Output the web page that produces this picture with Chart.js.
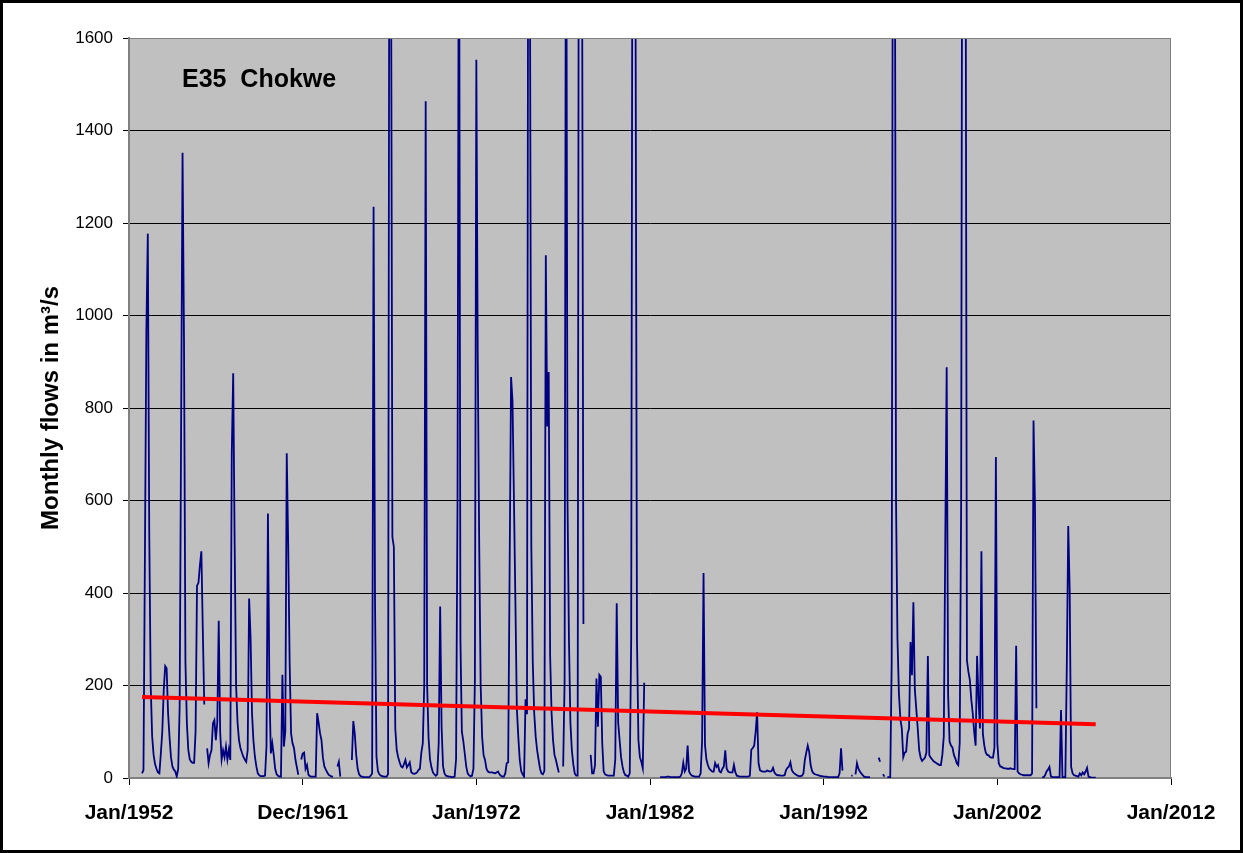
<!DOCTYPE html>
<html>
<head>
<meta charset="utf-8">
<script src="https://cdn.jsdelivr.net/npm/chart.js@4"></script>
<style>
  html, body { margin: 0; padding: 0; background: #fff; }
  canvas { display: block; }
</style>
</head>
<body>
<canvas id="flowChart" width="1243" height="853"></canvas>
<script>
// Monthly flows at E35 Chokwe, m3/s. One row per hydrological year (Oct..Sep), null = no record
const firstMonth = 9; // Oct 1952, counted in months from Jan 1952
const flows = [
  10, 17, 480, 967, 1177, 527, 200, 90, 50, 30, 20, 12,        // 1952/53
  10, 53, 100, 190, 242, 237, 140, 89, 45, 25, 18, 14,         // 1953/54
  3, 20, 154, 750, 1352, 951, 250, 118, 60, 40, 35, 33,        // 1954/55
  33, 100, 416, 422, 460, 490, 320, 159, null, 64, 32, 50,     // 1955/56
  60, 118, 125, 82, 120, 340, 100, 40, 60, 45, 68, 40,         // 1956/57
  61, 39, 700, 875, 506, 200, 120, 82, 65, 55, 46, 40,         // 1957/58
  35, 60, 388, 305, 140, 80, 46, 25, 10, 6, 4, 4,              // 1958/59
  4, 5, 68, 572, 200, 53, 75, 50, 20, 8, 5, 3,                 // 1959/60
  3, 223, 68, 100, 702, 506, 250, 96, 75, 65, 40, 23,          // 1960/61
  7, null, 40, 53, 55, 20, 28, 7, 4, 3, 3, 3,                  // 1961/62
  3, 140, 120, 97, 82, 44, 25, 18, 12, 7, 5, 3,                // 1962/63
  3, null, null, 25, 35, 3, null, null, null, null, null, null, // 1963/64
  null, 39, 123, 96, 50, 20, 8, 4, 3, 2, 2, 2,                 // 1964/65
  2, 2, 5, 10, 1235, 380, 46, 15, 8, 5, 4, 3,                  // 1965/66
  3, 3, 8, 2200, 1900, 521, 500, 107, 60, 45, 34, 25,          // 1966/67
  23, 30, 39, 23, 28, 34, 13, 10, 9, 10, 12, 17,               // 1967/68
  20, 55, 75, 200, 1463, 200, 86, 40, 23, 12, 8, 5,            // 1968/69
  8, 75, 371, 110, 25, 10, 5, 4, 3, 3, 2, 2,                   // 1969/70
  3, 40, 600, 2100, 300, 100, 80, 53, 25, 10, 6, 4,            // 1970/71
  5, 20, 212, 1553, 900, 500, 200, 89, 50, 39, 20, 14,         // 1971/72
  12, 12, 12, 11, 10, 12, 14, 8, 5, 3, 3, 10,                  // 1972/73
  32, 34, 450, 867, 815, 600, 380, 150, 89, 39, 15, 8,         // 1973/74
  3, 170, 138, 2300, 1800, 500, 250, 140, 90, 60, 40, 20,      // 1974/75
  10, 8, 15, 1130, 760, 878, 264, 140, 82, 50, 39, 25,         // 1975/76
  12, null, null, 25, 212, 2200, 600, 300, 120, 60, 30, 10,    // 1976/77
  5, 5, 2500, 2600, 1900, 333, null, null, null, null, 50, 10, // 1977/78
  10, 28, 215, 111, 223, 219, 75, 14, 8, 6, 5, 5,              // 1978/79
  5, 5, 5, 40, 378, 120, 82, 45, 25, 12, 6, 5,                 // 1979/80
  3, 10, 300, 2200, 2000, 1700, 300, 82, 45, 35, 21, 206,      // 1980/81
  null, null, null, null, null, null, null, null, null, null, 2, 2, // 1981/82
  2, 2, 2, 3, 3, 2, 2, 2, 2, 2, 2, 2,                          // 1982/83
  3, 10, 33, 14, 20, 70, 14, 8, 5, 4, 3, 3,                    // 1983/84
  3, 3, 10, 80, 443, 71, 40, 28, 20, 17, 14, 14,               // 1984/85
  32, 24, 28, 14, 12, 20, 25, 60, 20, 14, 12, 12,              // 1985/86
  12, 28, 12, 5, 4, 3, 3, 3, 3, 3, 3, 3,                       // 1986/87
  5, 61, 65, 70, 100, 142, 32, 17, 15, 14, 14, 14,             // 1987/88
  16, 15, 14, 15, 22, 12, 8, 6, 6, 5, 5, 5,                    // 1988/89
  6, 17, 22, 25, 34, 17, 12, 9, 7, 5, 4, 4,                    // 1989/90
  5, 10, 39, 55, 70, 57, 28, 15, 10, 8, 7, 6,                  // 1990/91
  5, 4, 4, 3, 3, 3, 2, 2, 2, 2, 2, 2,                          // 1991/92
  2, 2, 10, 64, 16, null, null, null, null, null, 5, 5,        // 1992/93
  null, 8, 32, 20, 14, 10, 6, 3, 2, 2, 2, 2,                   // 1993/94
  null, null, null, null, null, 44, 35, null, 8, 3, null, 2,   // 1994/95
  2, 2, 250, 2500, 2200, 600, 300, 183, 128, 107, 45, 55,      // 1995/96
  57, 96, 107, 294, 222, 380, 191, 149, 107, 60, 44, 37,       // 1996/97
  40, 44, 55, 264, 49, 44, 40, 36, 34, 32, 30, 28,             // 1997/98
  28, 50, 90, 500, 888, 180, 79, 70, 66, 50, 42, 32,           // 1998/99
  28, 75, 600, 2500, 4000, 2000, 254, 230, 212, 170, 140, 100, // 1999/00
  70, 264, 170, 107, 490, 96, 70, 55, 50, 49, 45, 44,          // 2000/01
  44, 65, 694, 75, 32, 25, 24, 22, 21, 21, 20, 20,             // 2001/02
  21, 20, 19, 19, 286, 14, 10, 8, 7, 6, 6, 6,                  // 2002/03
  6, 6, 6, 10, 773, 594, 151, null, null, null, 2, 2,          // 2003/04
  6, 14, 18, 24, 4, 2, 2, 2, 2, 2, 2, 147,                     // 2004/05
  2, 2, 2, 241, 545, 406, 24, 10, 6, 5, 4, 3,                  // 2005/06
  10, 6, 12, 8, 14, 22, 3, 2, 1, 1, 1, 1                       // 2006/07
];

// linear trend drawn by the spreadsheet
const trendMonths = [9, 668];
const trendFlows = [175, 116];

const xTickMonths = [0, 120, 240, 360, 480, 600, 720];
const xTickLabels = ['Jan/1952', 'Dec/1961', 'Jan/1972', 'Jan/1982', 'Jan/1992', 'Jan/2002', 'Jan/2012'];
const yMax = 1600;
const yStep = 200;

const stationName = 'E35  Chokwe';
const yTitle = 'Monthly flows in m\u00B3/s';
const fontFamily = '"Liberation Sans", Arial, sans-serif';

// gray plot area, outer frame and station name
const frame = {
  id: 'frame',
  beforeDraw(chart) {
    const { ctx, chartArea: a } = chart;
    ctx.save();
    ctx.fillStyle = '#ffffff';
    ctx.fillRect(0, 0, chart.width, chart.height);
    ctx.fillStyle = '#c0c0c0';
    ctx.fillRect(a.left, a.top, a.right - a.left, a.bottom - a.top);
    ctx.restore();
  },
  afterDraw(chart) {
    const { ctx, chartArea: a } = chart;
    ctx.save();
    ctx.strokeStyle = '#808080';
    ctx.lineWidth = 1;
    ctx.beginPath();
    ctx.moveTo(a.left, a.top + 0.5);
    ctx.lineTo(a.right - 0.5, a.top + 0.5);
    ctx.lineTo(a.right - 0.5, a.bottom);
    ctx.stroke();

    ctx.strokeStyle = '#000000';
    ctx.lineWidth = 3;
    ctx.strokeRect(1.5, 1.5, chart.width - 3, chart.height - 3);

    ctx.fillStyle = '#000000';
    ctx.font = 'bold 25px ' + fontFamily;
    ctx.textBaseline = 'alphabetic';
    ctx.fillText(stationName, a.left + 53, a.top + 49);
    ctx.restore();
  }
};

window.onload = function () {
  const ctx = document.getElementById('flowChart').getContext('2d');

  const flowPoints = flows.map((v, i) => ({ x: firstMonth + i, y: v }));
  const trendPoints = trendMonths.map((m, i) => ({ x: m, y: trendFlows[i] }));

  new Chart(ctx, {
    type: 'line',
    data: {
      datasets: [
        {
          label: 'Trend',
          data: trendPoints,
          borderColor: '#ff0000',
          borderWidth: 4,
          pointRadius: 0,
          order: 0,
          clip: 0
        },
        {
          label: 'Monthly flows',
          data: flowPoints,
          borderColor: '#000080',
          borderWidth: 1.8,
          pointRadius: 0,
          tension: 0,
          spanGaps: false,
          order: 1,
          clip: 0
        }
      ]
    },
    options: {
      responsive: false,
      animation: false,
      events: [],
      layout: { padding: { left: 0, top: 38, right: 72, bottom: 0 } },
      plugins: {
        legend: { display: false },
        tooltip: { enabled: false }
      },
      scales: {
        x: {
          type: 'linear',
          min: xTickMonths[0],
          max: xTickMonths[xTickMonths.length - 1],
          afterBuildTicks: scale => {
            scale.ticks = xTickMonths.map(v => ({ value: v }));
          },
          afterFit: scale => { scale.height = 75; },
          ticks: {
            autoSkip: false,
            maxRotation: 0,
            padding: 16,
            color: '#000',
            font: { family: fontFamily, size: 21, weight: 'bold' },
            callback: (value, index) => xTickLabels[index]
          },
          grid: {
            drawOnChartArea: false,
            drawTicks: true,
            tickLength: 7,
            tickColor: '#000'
          },
          border: { display: true, color: '#808080', width: 2 }
        },
        y: {
          min: 0,
          max: yMax,
          afterFit: scale => { scale.width = 129; },
          ticks: {
            stepSize: yStep,
            padding: 10,
            color: '#000',
            font: { family: fontFamily, size: 17 },
            callback: value => String(value)
          },
          grid: {
            color: c => (c.tick && (c.tick.value === yMax || c.tick.value === 0)) ? '#808080' : '#000000',
            lineWidth: 1,
            drawTicks: true,
            tickLength: 6,
            tickColor: '#000'
          },
          border: { display: true, color: '#808080', width: 2 },
          title: {
            display: true,
            text: yTitle,
            color: '#000',
            font: { family: fontFamily, size: 24, weight: 'bold' },
            padding: { top: 37, bottom: 0 }
          }
        }
      }
    },
    plugins: [frame]
  });
};
</script>
</body>
</html>
